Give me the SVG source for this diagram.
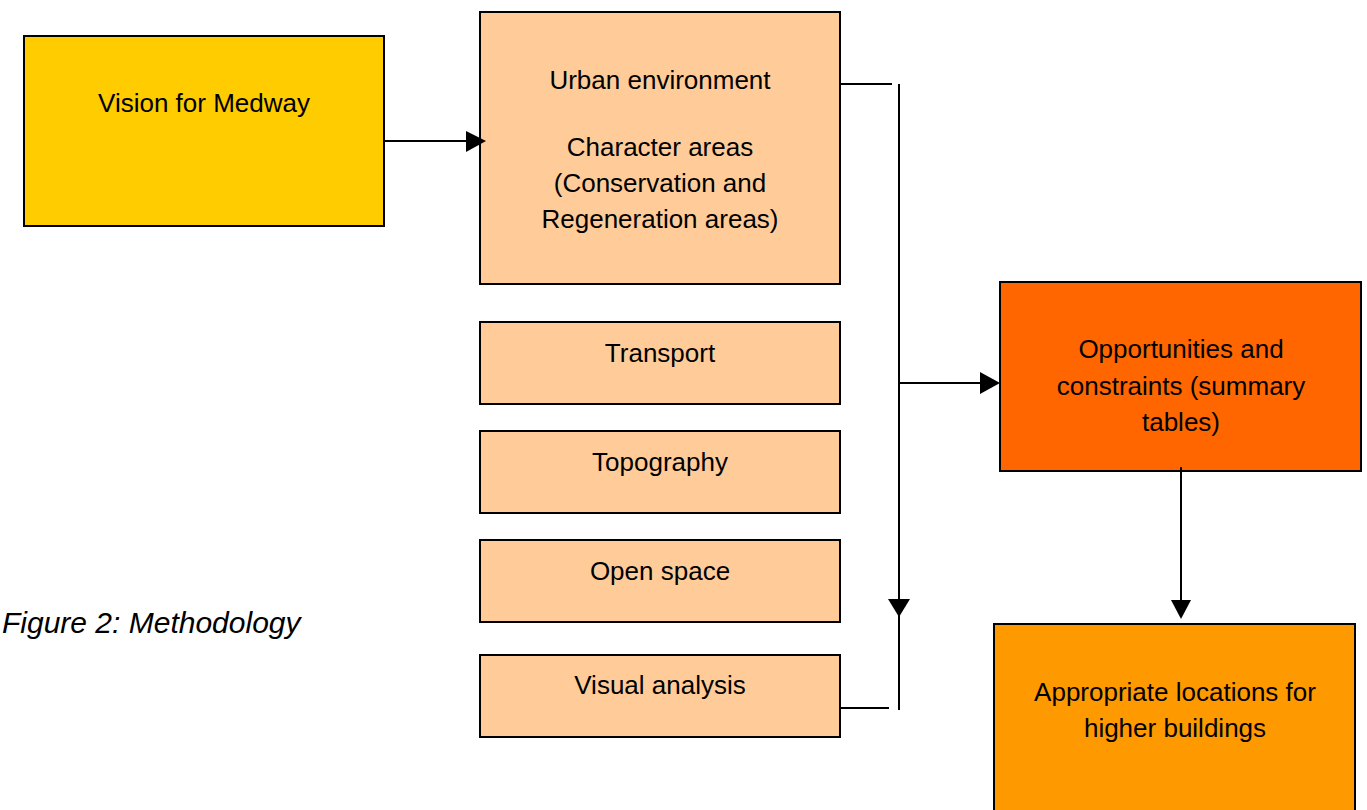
<svg xmlns="http://www.w3.org/2000/svg" width="1367" height="810" viewBox="0 0 1367 810">
<style>
.box{stroke:#000;stroke-width:2}
.t{font-family:"Liberation Sans",Arial,sans-serif;font-size:26px;fill:#000;text-anchor:middle}
.c{stroke:#000;stroke-width:2;fill:none}
.ah{fill:#000}
</style>
<rect width="1367" height="810" fill="#fff"/>
<g id="vision">
<rect class="box" x="24" y="36" width="360" height="190" fill="#FFCC00"/>
<text class="t" x="204" y="112">Vision for Medway</text>
</g>
<g id="urban">
<rect class="box" x="480" y="12" width="360" height="272" fill="#FFCC99"/>
<text class="t" x="660" y="89">Urban environment</text>
<text class="t" x="660" y="156">Character areas</text>
<text class="t" x="660" y="192">(Conservation and</text>
<text class="t" x="660" y="228">Regeneration areas)</text>
</g>
<g id="transport">
<rect class="box" x="480" y="322" width="360" height="82" fill="#FFCC99"/>
<text class="t" x="660" y="362">Transport</text>
</g>
<g id="topography">
<rect class="box" x="480" y="431" width="360" height="82" fill="#FFCC99"/>
<text class="t" x="660" y="471">Topography</text>
</g>
<g id="openspace">
<rect class="box" x="480" y="540" width="360" height="82" fill="#FFCC99"/>
<text class="t" x="660" y="580">Open space</text>
</g>
<g id="visual">
<rect class="box" x="480" y="655" width="360" height="82" fill="#FFCC99"/>
<text class="t" x="660" y="694">Visual analysis</text>
</g>
<g id="opportunities">
<rect class="box" x="1000" y="282" width="361" height="189" fill="#FF6600"/>
<text class="t" x="1181" y="358">Opportunities and</text>
<text class="t" x="1181" y="395">constraints (summary</text>
<text class="t" x="1181" y="431">tables)</text>
</g>
<g id="appropriate">
<rect class="box" x="994" y="624" width="361" height="200" fill="#FF9900"/>
<text class="t" x="1175" y="701">Appropriate locations for</text>
<text class="t" x="1175" y="737">higher buildings</text>
</g>
<g id="caption">
<text x="2" y="633" font-family="'Liberation Sans',Arial,sans-serif" font-size="30" font-style="italic" fill="#000">Figure 2: Methodology</text>
</g>
<g id="connectors">
<line class="c" x1="385" y1="141" x2="470" y2="141"/>
<path class="ah" d="M466,131 L486,141 L466,152 Z"/>
<line class="c" x1="840" y1="84" x2="892" y2="84"/>
<line class="c" x1="899" y1="84" x2="899" y2="710"/>
<path class="ah" d="M888,599 L910,599 L899,617 Z"/>
<line class="c" x1="840" y1="708" x2="889" y2="708"/>
<line class="c" x1="899" y1="383" x2="984" y2="383"/>
<path class="ah" d="M980,372 L1000,383 L980,394 Z"/>
<line class="c" x1="1181" y1="467" x2="1181" y2="605"/>
<path class="ah" d="M1171,600 L1191,600 L1181,619 Z"/>
</g>
</svg>
